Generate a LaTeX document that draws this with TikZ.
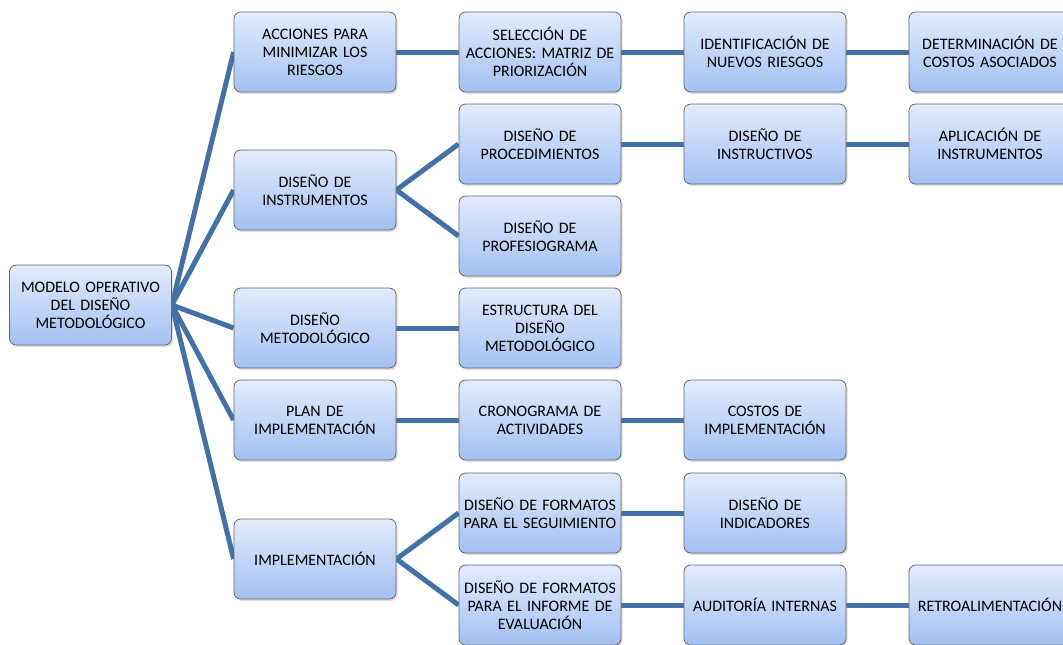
\documentclass[tikz,border=0pt]{standalone}
\usepackage{fontspec}
\setmainfont{Carlito}
\usetikzlibrary{shadows,backgrounds}
\definecolor{boxtop}{RGB}{226,236,253}
\definecolor{boxbot}{RGB}{163,192,242}
\definecolor{lnblue}{RGB}{68,112,168}

\begin{document}
\begin{tikzpicture}[
  x=0.75pt, y=-0.75pt,
  bx/.style={draw=black!60, line width=0.6pt, rounded corners=5pt, top color=boxtop, bottom color=boxbot, minimum width=121.5pt, minimum height=60pt, text width=115pt, inner sep=2pt, align=center, font=\fontsize{12}{13.5}\selectfont, drop shadow={shadow xshift=1.2pt, shadow yshift=-1.5pt, opacity=0.25}},
  ln/.style={draw=lnblue, line width=3.75pt}
]
\useasboundingbox (0,0) rectangle (1063,644);
\node[bx] (mod) at (90.5,305) {MODELO OPERATIVO\\DEL DISEÑO\\METODOLÓGICO};
% first level
\node[bx] (a1) at (315,52) {ACCIONES PARA\\MINIMIZAR LOS\\RIESGOS};
\node[bx] (a2) at (315,190) {DISEÑO DE\\INSTRUMENTOS};
\node[bx] (a3) at (315,328) {DISEÑO\\METODOLÓGICO};
\node[bx] (a4) at (315,420) {PLAN DE\\IMPLEMENTACIÓN};
\node[bx] (a5) at (315,559) {IMPLEMENTACIÓN};
% second level
\node[bx] (b1) at (540,52) {SELECCIÓN DE\\ACCIONES: MATRIZ DE\\PRIORIZACIÓN};
\node[bx] (b2) at (540,144) {DISEÑO DE\\PROCEDIMIENTOS};
\node[bx] (b3) at (540,236) {DISEÑO DE\\PROFESIOGRAMA};
\node[bx] (b4) at (540,328) {ESTRUCTURA DEL\\DISEÑO\\METODOLÓGICO};
\node[bx] (b5) at (540,420) {CRONOGRAMA DE\\ACTIVIDADES};
\node[bx] (b6) at (540,513) {DISEÑO DE FORMATOS\\PARA EL SEGUIMIENTO};
\node[bx] (b7) at (540,605) {DISEÑO DE FORMATOS\\PARA EL INFORME DE\\EVALUACIÓN};
% third level
\node[bx] (c1) at (765,52) {IDENTIFICACIÓN DE\\NUEVOS RIESGOS};
\node[bx] (c2) at (765,144) {DISEÑO DE\\INSTRUCTIVOS};
\node[bx] (c3) at (765,420) {COSTOS DE\\IMPLEMENTACIÓN};
\node[bx] (c4) at (765,513) {DISEÑO DE\\INDICADORES};
\node[bx] (c5) at (765,605) {AUDITORÍA INTERNAS};
% fourth level
\node[bx] (d1) at (990,52) {DETERMINACIÓN DE\\COSTOS ASOCIADOS};
\node[bx] (d2) at (990,144) {APLICACIÓN DE\\INSTRUMENTOS};
\node[bx] (d3) at (990,605) {RETROALIMENTACIÓN};
\begin{scope}[on background layer]
\foreach \s/\t in {mod/a1,mod/a2,mod/a3,mod/a4,mod/a5,a1/b1,a2/b2,a2/b3,a3/b4,a4/b5,a5/b6,a5/b7,b1/c1,b2/c2,b5/c3,b6/c4,b7/c5,c1/d1,c2/d2,c5/d3} {\draw[ln] (\s.east) -- (\t.west);}
\end{scope}
\end{tikzpicture}
\end{document}
